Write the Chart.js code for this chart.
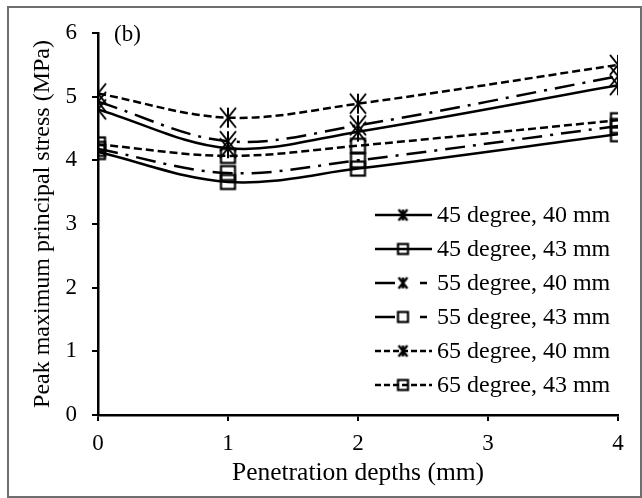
<!DOCTYPE html>
<html>
<head>
<meta charset="utf-8">
<script src="https://cdn.jsdelivr.net/npm/chart.js@4.4.1/dist/chart.umd.min.js"></script>
<style>
  body { margin: 0; background: #fff; }
  canvas { display: block; }
</style>
</head>
<body>
<canvas id="stressChart" width="642" height="498"></canvas>
<script>
// Datos
const depths = [0, 1, 2, 4];
const deg45mm40 = [4.80, 4.19, 4.45, 5.18];
const deg45mm43 = [4.13, 3.66, 3.87, 4.41];
const deg55mm40 = [4.92, 4.30, 4.55, 5.32];
const deg55mm43 = [4.18, 3.80, 4.00, 4.54];
const deg65mm40 = [5.05, 4.67, 4.89, 5.50];
const deg65mm43 = [4.25, 4.07, 4.23, 4.63];
const seriesLabels = [
    '45 degree, 40 mm', '45 degree, 43 mm',
    '55 degree, 40 mm', '55 degree, 43 mm',
    '65 degree, 40 mm', '65 degree, 43 mm'
];
const yTicks = [0, 1, 2, 3, 4, 5, 6];
const xTicks = [0, 1, 2, 3, 4];

const serif = "'Times New Roman', 'Liberation Serif', serif";

// Marcadores dibujados en canvas
function makeStar(r, lw) {
    const c = document.createElement('canvas');
    const s = Math.ceil(r * 2 + 4);
    c.width = s; c.height = s;
    const g = c.getContext('2d');
    const m = s / 2;
    g.strokeStyle = '#000';
    g.lineWidth = lw;
    g.beginPath();
    g.moveTo(m - r * 0.8, m - r); g.lineTo(m + r * 0.8, m + r);
    g.moveTo(m + r * 0.8, m - r); g.lineTo(m - r * 0.8, m + r);
    g.moveTo(m, m - r); g.lineTo(m, m + r);
    g.stroke();
    return c;
}

function makeSquare(side, lw) {
    const c = document.createElement('canvas');
    const s = Math.ceil(side + lw + 2);
    c.width = s; c.height = s;
    const g = c.getContext('2d');
    g.strokeStyle = '#000';
    g.lineWidth = lw;
    g.strokeRect((s - side) / 2, (s - side) / 2, side, side);
    return c;
}

const starBig = makeStar(10, 2);
const squareBig = makeSquare(14, 2.2);
const starSmall = makeStar(5.5, 2.4);
const squareSmall = makeSquare(10, 2.2);

const dashSolid = [];
const dashDot = [20, 8, 3, 8];
const dashShort = [8, 4];

const styles = [
    { dash: dashSolid, mark: starBig, legMark: starSmall, legDash: [] },
    { dash: dashSolid, mark: squareBig, legMark: squareSmall, legDash: [] },
    { dash: dashDot, mark: starBig, legMark: starSmall, legDash: [20, 25, 7, 100] },
    { dash: dashDot, mark: squareBig, legMark: squareSmall, legDash: [20, 25, 7, 100] },
    { dash: dashShort, mark: starBig, legMark: starSmall, legDash: [6, 3] },
    { dash: dashShort, mark: squareBig, legMark: squareSmall, legDash: [6, 3] }
];

const seriesValues = [deg45mm40, deg45mm43, deg55mm40, deg55mm43, deg65mm40, deg65mm43];

const datasets = seriesValues.map((vals, i) => ({
    label: seriesLabels[i],
    data: depths.map((x, j) => ({ x: x, y: vals[j] })),
    borderColor: '#000',
    borderWidth: 2.5,
    borderDash: styles[i].dash,
    pointStyle: styles[i].mark,
    pointRadius: 8,
    fill: false,
    tension: 0.35
}));

// Marco, etiqueta (b) y leyenda
const extras = {
    id: 'extras',
    afterDraw(chart) {
        const ctx = chart.ctx;
        ctx.save();
        ctx.strokeStyle = '#6e6e6e';
        ctx.lineWidth = 2;
        ctx.strokeRect(8, 7, 633, 490);

        ctx.fillStyle = '#000';
        ctx.font = '23px ' + serif;
        ctx.textBaseline = 'middle';
        ctx.textAlign = 'left';
        ctx.fillText('(b)', 114, 35);

        ctx.font = '24px ' + serif;
        seriesLabels.forEach((lab, i) => {
            const y = 215 + i * 34;
            ctx.beginPath();
            ctx.setLineDash(styles[i].legDash);
            ctx.lineWidth = 2.5;
            ctx.strokeStyle = '#000';
            ctx.moveTo(375, y);
            ctx.lineTo(432, y);
            ctx.stroke();
            ctx.setLineDash([]);
            const m = styles[i].legMark;
            ctx.drawImage(m, 403 - m.width / 2, y - m.height / 2);
            ctx.fillText(lab, 437, y + 1);
        });
        ctx.restore();
    }
};

new Chart(document.getElementById('stressChart'), {
    type: 'line',
    data: { datasets: datasets },
    plugins: [extras],
    options: {
        responsive: false,
        animation: false,
        layout: { padding: { top: 33, right: 24, left: 0, bottom: 0 } },
        plugins: {
            legend: { display: false },
            tooltip: { enabled: false }
        },
        scales: {
            x: {
                type: 'linear',
                min: 0,
                max: 4,
                afterFit: (s) => { s.height = 83; },
                afterBuildTicks: (s) => { s.ticks = xTicks.map(v => ({ value: v })); },
                ticks: {
                    color: '#000',
                    font: { family: serif, size: 23 },
                    padding: 9
                },
                grid: { drawOnChartArea: false, drawTicks: true, tickLength: 6, color: '#000', lineWidth: 2 },
                border: { color: '#000', width: 2.5 },
                title: {
                    display: true,
                    text: 'Penetration depths (mm)',
                    color: '#000',
                    font: { family: serif, size: 25.5 },
                    padding: { top: 0, bottom: 9 }
                }
            },
            y: {
                min: 0,
                max: 6,
                afterFit: (s) => { s.width = 98; },
                afterBuildTicks: (s) => { s.ticks = yTicks.map(v => ({ value: v })); },
                ticks: {
                    color: '#000',
                    font: { family: serif, size: 23 },
                    padding: 15
                },
                grid: { drawOnChartArea: false, drawTicks: true, tickLength: 6, color: '#000', lineWidth: 2 },
                border: { color: '#000', width: 2.5 },
                title: {
                    display: true,
                    text: 'Peak maximum principal stress (MPa)',
                    color: '#000',
                    font: { family: serif, size: 24 },
                    padding: { top: 28, bottom: 0 }
                }
            }
        }
    }
});
</script>
</body>
</html>
